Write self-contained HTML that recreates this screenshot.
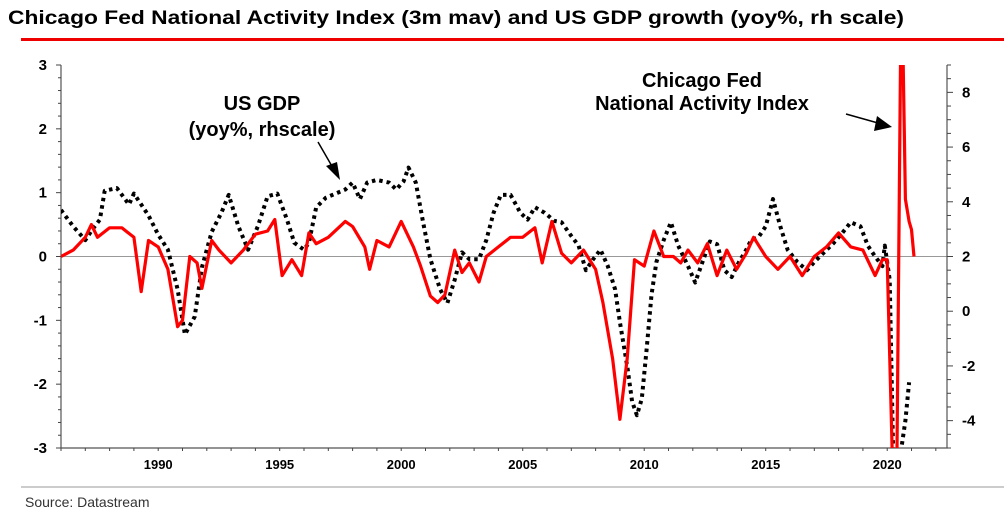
<!DOCTYPE html>
<html><head><meta charset="utf-8"><style>
html,body{margin:0;padding:0;background:#fff;width:1004px;height:519px;overflow:hidden;position:relative;}
svg{display:block;position:absolute;left:0;top:0;font-family:"Liberation Sans",Arial,sans-serif;}
</style></head><body>
<svg id="chart" width="1004" height="519" viewBox="0 0 1004 519" xmlns="http://www.w3.org/2000/svg">
<text x="8" y="24" font-size="19.5" font-weight="bold" textLength="896" lengthAdjust="spacingAndGlyphs">Chicago Fed National Activity Index (3m mav) and US GDP growth (yoy%, rh scale)</text>
<rect x="21" y="38" width="983" height="3" fill="#e00"/>
<line x1="21" y1="487" x2="1004" y2="487" stroke="#999" stroke-width="1"/>
<text x="25" y="507" font-size="14" fill="#333">Source: Datastream</text>
<defs><clipPath id="plotclip"><rect x="61" y="65" width="886" height="383"/></clipPath></defs>
<g id="axes"></g>
<g id="series" clip-path="url(#plotclip)"></g>
<text x="262" y="110" font-size="20" font-weight="bold" text-anchor="middle">US GDP</text>
<text x="262" y="136" font-size="20" font-weight="bold" text-anchor="middle">(yoy%, rhscale)</text>
<line x1="318" y1="142" x2="333" y2="168" stroke="#000" stroke-width="1.5"/>
<polygon points="340,180 326,166 337,162" fill="#000"/>
<text x="702" y="87" font-size="20" font-weight="bold" text-anchor="middle">Chicago Fed</text>
<text x="702" y="110" font-size="20" font-weight="bold" text-anchor="middle">National Activity Index</text>
<line x1="846" y1="114" x2="878" y2="123" stroke="#000" stroke-width="1.5"/>
<polygon points="892,127 874,131 877,116" fill="#000"/>
</svg>
<script>
const cfYears=[1986.0,1986.5,1987.0,1987.25,1987.5,1988.0,1988.5,1989.0,1989.3,1989.6,1990.0,1990.4,1990.8,1991.0,1991.3,1991.6,1991.8,1992.2,1992.5,1993.0,1993.5,1994.0,1994.5,1994.8,1995.1,1995.5,1995.9,1996.2,1996.5,1997.0,1997.7,1998.0,1998.5,1998.7,1999.0,1999.5,2000.0,2000.5,2000.8,2001.2,2001.5,2001.8,2002.2,2002.5,2002.8,2003.2,2003.5,2004.0,2004.5,2005.0,2005.5,2005.8,2006.2,2006.6,2007.0,2007.5,2008.0,2008.3,2008.7,2009.0,2009.3,2009.6,2010.0,2010.4,2010.8,2011.2,2011.5,2011.8,2012.2,2012.6,2013.0,2013.4,2013.8,2014.2,2014.5,2015.0,2015.5,2016.0,2016.5,2017.0,2017.5,2018.0,2018.5,2019.0,2019.5,2019.8,2020.0,2020.2,2020.4,2020.55,2020.65,2020.75,2020.9,2021.0,2021.1];
const cfValues=[0,0.1,0.3,0.5,0.3,0.45,0.45,0.3,-0.55,0.25,0.15,-0.2,-1.1,-1.0,0.0,-0.1,-0.5,0.25,0.1,-0.1,0.1,0.35,0.4,0.58,-0.3,-0.05,-0.3,0.37,0.2,0.3,0.55,0.47,0.15,-0.2,0.25,0.15,0.55,0.15,-0.15,-0.62,-0.72,-0.6,0.1,-0.25,-0.1,-0.4,0.0,0.15,0.3,0.3,0.45,-0.1,0.55,0.05,-0.1,0.1,-0.2,-0.72,-1.6,-2.55,-1.6,-0.05,-0.15,0.4,0,0.0,-0.1,0.1,-0.1,0.2,-0.3,0.1,-0.2,0.05,0.3,0,-0.2,0,-0.3,0,0.15,0.37,0.15,0.1,-0.3,-0.05,-0.05,-3,-10,5,5,0.9,0.55,0.42,0.0];
const gdpYears=[1986.0,1986.5,1987.0,1987.3,1987.6,1987.8,1988.3,1988.8,1989.0,1989.3,1989.6,1990.0,1990.4,1990.8,1991.1,1991.5,1991.8,1992.2,1992.6,1992.9,1993.3,1993.7,1994.1,1994.5,1994.9,1995.3,1995.6,1996.0,1996.2,1996.5,1996.9,1997.3,1997.7,1998.0,1998.3,1998.6,1999.0,1999.5,1999.8,2000.1,2000.3,2000.6,2000.9,2001.2,2001.6,2001.9,2002.2,2002.5,2002.8,2003.2,2003.5,2003.8,2004.1,2004.5,2004.9,2005.2,2005.5,2005.9,2006.3,2006.6,2007.0,2007.3,2007.6,2007.9,2008.2,2008.5,2008.8,2009.0,2009.3,2009.5,2009.7,2009.9,2010.1,2010.3,2010.5,2010.8,2011.1,2011.4,2011.8,2012.1,2012.4,2012.7,2013.0,2013.3,2013.6,2013.9,2014.2,2014.4,2014.7,2015.0,2015.3,2015.6,2015.9,2016.3,2016.7,2017.0,2017.4,2017.8,2018.1,2018.5,2018.9,2019.2,2019.5,2019.8,2019.9,2020.1,2020.25,2020.5,2020.75,2020.9];
const gdpValues=[3.7,3.1,2.6,3.0,3.35,4.4,4.5,3.9,4.3,3.9,3.5,2.8,2.25,0.8,-0.85,-0.2,1.6,2.9,3.6,4.25,3.1,2.25,3.1,4.2,4.3,3.35,2.5,2.25,2.5,3.8,4.15,4.3,4.45,4.7,4.1,4.7,4.8,4.7,4.45,4.75,5.25,4.7,3.25,1.9,0.8,0.3,1.15,2.15,1.9,1.9,2.6,3.6,4.25,4.25,3.6,3.35,3.8,3.6,3.3,3.25,2.75,2.4,1.5,1.9,2.25,1.65,0.8,-0.4,-2.0,-3.3,-3.8,-3.2,-1.4,0.6,1.8,2.6,3.25,2.4,1.65,1.05,1.8,2.55,2.45,1.5,1.25,1.8,2.25,2.6,2.7,3.1,4.1,3.1,2.25,1.8,1.5,1.8,2.15,2.5,2.8,3.25,3.1,2.4,2.0,1.65,2.4,1.15,-9,-9,-4,-2.6];
const leftTicks=[3,2,1,0,-1,-2,-3];
const rightTicks=[8,6,4,2,0,-2,-4];
const xTicks=[1990,1995,2000,2005,2010,2015,2020];

const X0=61,X1=947,Y0=65,Y1=448;
const clamp=(v,a,b)=>Math.max(a,Math.min(b,v));
const xs=y=>X0+(y-1986)/(2022.46-1986)*(X1-X0);
const yl=v=>Y0+(3-clamp(v,-3.2,3.2))/6*(Y1-Y0);
const yr=v=>Y0+(9-clamp(v,-5.5,9.5))/14*(Y1-Y0);
const NS='http://www.w3.org/2000/svg';
const axes=document.getElementById('axes'),series=document.getElementById('series');
function mk(tag,attrs,parent){const e=document.createElementNS(NS,tag);for(const k in attrs)e.setAttribute(k,attrs[k]);parent.appendChild(e);return e;}

let e=mk('line',{x1:X0,y1:yl(0),x2:X1,y2:yl(0),stroke:'#999','stroke-width':1},axes);


e=mk('path',{d:`M${X0},${Y0}V${Y1}H${X1}V${Y0}`,stroke:'#555','stroke-width':1.2,fill:'none'},axes);


for(let v=-3;v<=3.001;v+=0.2){const y=yl(v);const major=Math.abs(v-Math.round(v))<0.01;
 e=mk('line',{x1:X0-(major?5:3),y1:y,x2:X0,y2:y,stroke:'#444','stroke-width':1},axes);
 
 }
for(let v=-5;v<=9.001;v+=0.5){const y=yr(v);const major=Math.abs(v/2-Math.round(v/2))<0.01;
 e=mk('line',{x1:X1,y1:y,x2:X1+(major?6:4),y2:y,stroke:'#444','stroke-width':1},axes);
 
 }
for(let yv=1986;yv<=2022;yv++){const x=xs(yv);
 e=mk('line',{x1:x,y1:Y1,x2:x,y2:Y1+3,stroke:'#444','stroke-width':1},axes);
 
 }
leftTicks.forEach(v=>{e=mk('text',{x:47,y:yl(v)+5,'font-size':15,'font-weight':'bold','text-anchor':'end'},axes);e.textContent=v;
 
 });
rightTicks.forEach(v=>{e=mk('text',{x:962,y:yr(v)+5,'font-size':15,'font-weight':'bold'},axes);e.textContent=v;
 
 });
xTicks.forEach(v=>{e=mk('text',{x:xs(v),y:Y1+21,'font-size':13,'font-weight':'bold','text-anchor':'middle'},axes);e.textContent=v;
 
 });

const gd=gdpYears.map((t,i)=>(i?'L':'M')+xs(t).toFixed(1)+','+yr(gdpValues[i]).toFixed(1)).join('');
e=mk('path',{d:gd,fill:'none',stroke:'#000','stroke-width':4,'stroke-dasharray':'3.5 4','stroke-linejoin':'round'},series);


const cd=cfYears.map((t,i)=>(i?'L':'M')+xs(t).toFixed(1)+','+yl(cfValues[i]).toFixed(1)).join('');
e=mk('path',{d:cd,fill:'none',stroke:'#f00','stroke-width':3.2,'stroke-linejoin':'round'},series);


</script>
</body></html>
